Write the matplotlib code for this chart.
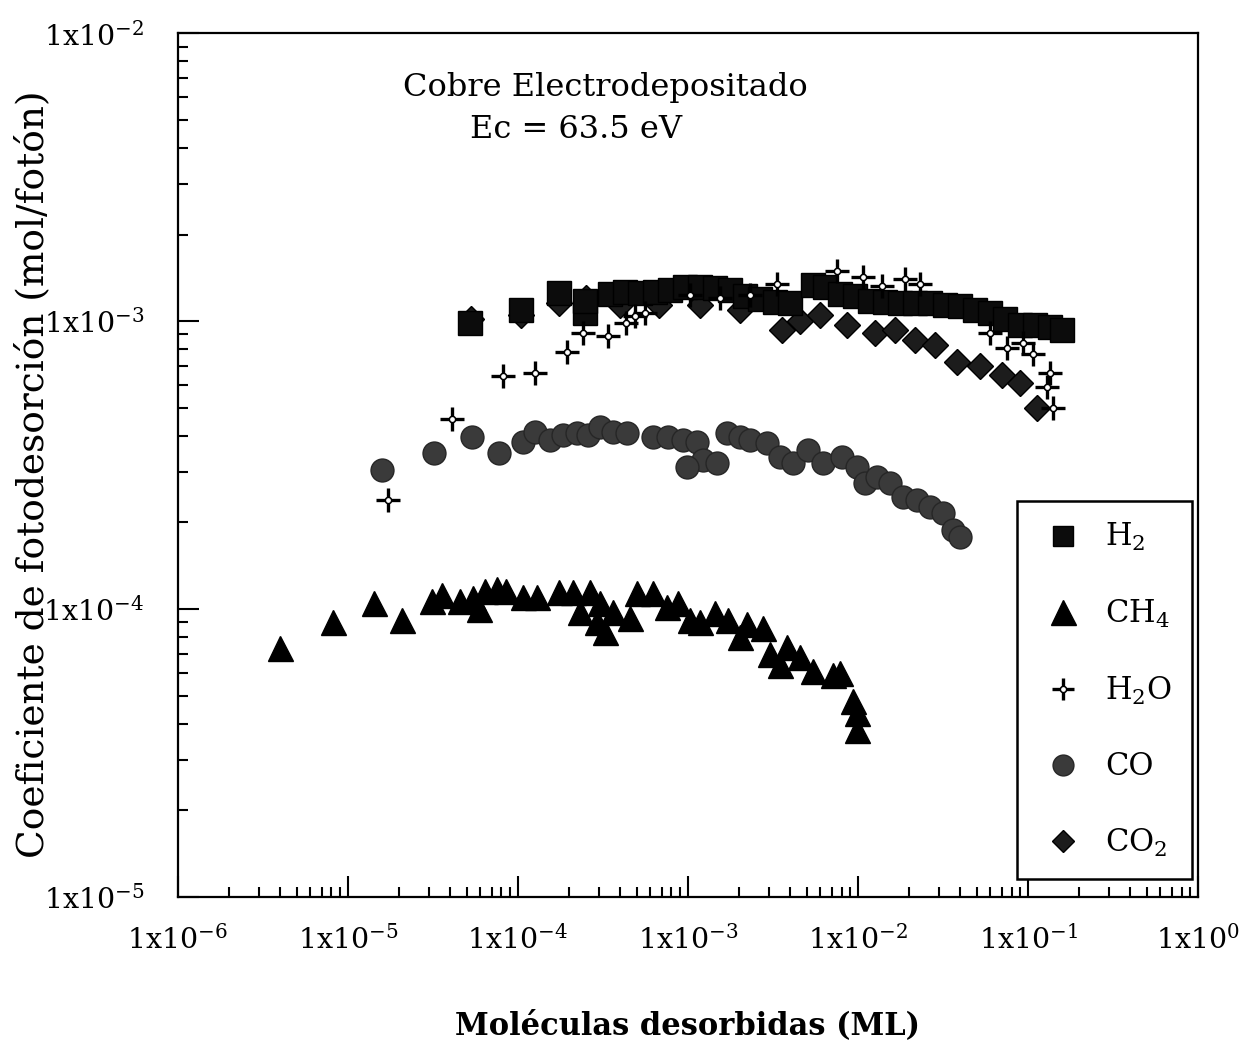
import matplotlib
matplotlib.use("Agg")
import matplotlib.pyplot as plt
from matplotlib.ticker import LogLocator, FuncFormatter, NullFormatter
from matplotlib.lines import Line2D
from matplotlib.legend_handler import HandlerTuple
import numpy as np

plt.rcParams['font.family'] = ['DejaVu Serif']
plt.rcParams['mathtext.fontset'] = 'custom'
plt.rcParams['mathtext.rm'] = 'DejaVu Serif'
plt.rcParams['mathtext.default'] = 'regular'

# ---- data (Moléculas desorbidas [ML], coeficiente [mol/fotón]) ----
h2_x = [5.2e-5, 1.04e-4, 1.74e-4, 2.48e-4, 2.48e-4, 3.48e-4, 4.26e-4, 5.22e-4, 6.4e-4, 7.8e-4,
        9.6e-4, 1.18e-3, 1.44e-3, 1.77e-3, 2.16e-3, 2.65e-3, 3.25e-3, 3.98e-3, 5.4e-3, 6.4e-3,
        7.8e-3, 9.6e-3, 1.18e-2, 1.44e-2, 1.77e-2, 2.16e-2, 2.65e-2, 3.25e-2, 3.98e-2, 4.88e-2,
        5.97e-2, 7.3e-2, 8.97e-2, 0.11, 0.135, 0.158]
h2_y = [0.99e-3, 1.09e-3, 1.25e-3, 1.07e-3, 1.18e-3, 1.24e-3, 1.26e-3, 1.25e-3, 1.26e-3, 1.28e-3,
        1.31e-3, 1.31e-3, 1.30e-3, 1.28e-3, 1.22e-3, 1.19e-3, 1.17e-3, 1.16e-3, 1.34e-3, 1.31e-3,
        1.24e-3, 1.22e-3, 1.18e-3, 1.165e-3, 1.16e-3, 1.16e-3, 1.16e-3, 1.14e-3, 1.13e-3, 1.09e-3,
        1.07e-3, 1.02e-3, 0.97e-3, 0.97e-3, 0.955e-3, 0.93e-3]

ch4_x = [3.98e-6, 8.2e-6, 1.42e-5, 2.08e-5, 3.12e-5, 3.57e-5, 4.56e-5, 5.43e-5, 6.4e-5, 7.5e-5,
         8.5e-5, 5.9e-5, 1.07e-4, 1.29e-4, 1.74e-4, 2.11e-4, 2.65e-4, 2.32e-4, 3.04e-4, 3.62e-4,
         2.92e-4, 3.25e-4, 4.56e-4, 5.0e-4, 6.2e-4, 7.5e-4, 8.7e-4, 1.03e-3, 1.18e-3, 1.44e-3,
         1.72e-3, 2.02e-3, 2.22e-3, 2.76e-3, 3.03e-3, 3.48e-3, 3.82e-3, 4.56e-3, 5.43e-3, 7.1e-3,
         7.8e-3, 9.35e-3, 9.87e-3, 9.87e-3]
ch4_y = [7.3e-5, 9.0e-5, 1.05e-4, 9.2e-5, 1.07e-4, 1.12e-4, 1.07e-4, 1.09e-4, 1.16e-4, 1.17e-4,
         1.16e-4, 1.0e-4, 1.10e-4, 1.10e-4, 1.15e-4, 1.15e-4, 1.15e-4, 9.8e-5, 1.05e-4, 9.8e-5,
         9.0e-5, 8.3e-5, 9.3e-5, 1.14e-4, 1.14e-4, 1.02e-4, 1.05e-4, 9.2e-5, 9.0e-5, 9.7e-5,
         9.2e-5, 8.0e-5, 8.9e-5, 8.6e-5, 7.0e-5, 6.4e-5, 7.4e-5, 6.8e-5, 6.1e-5, 5.9e-5,
         6.0e-5, 4.8e-5, 4.35e-5, 3.8e-5]

h2o_x = [1.72e-5, 4.09e-5, 8.2e-5, 1.26e-4, 1.94e-4, 2.41e-4, 3.38e-4, 4.31e-4, 4.87e-4, 5.58e-4,
         1.03e-3, 1.54e-3, 2.32e-3, 3.34e-3, 7.5e-3, 1.07e-2, 1.38e-2, 1.89e-2, 2.32e-2, 5.97e-2,
         7.5e-2, 9.35e-2, 0.107, 0.135, 0.129, 0.140]
h2o_y = [2.39e-4, 4.57e-4, 6.44e-4, 6.6e-4, 7.8e-4, 9.1e-4, 8.9e-4, 0.99e-3, 1.04e-3, 1.07e-3,
         1.23e-3, 1.2e-3, 1.23e-3, 1.35e-3, 1.50e-3, 1.42e-3, 1.33e-3, 1.40e-3, 1.35e-3, 9.1e-4,
         8.1e-4, 8.4e-4, 7.7e-4, 6.6e-4, 5.9e-4, 5.0e-4]

co_x = [1.58e-5, 3.21e-5, 5.36e-5, 7.7e-5, 1.07e-4, 1.26e-4, 1.54e-4, 1.84e-4, 2.22e-4, 2.58e-4,
        3.04e-4, 3.62e-4, 4.38e-4, 6.2e-4, 7.6e-4, 9.35e-4, 1.13e-3, 1.23e-3, 9.9e-4, 1.48e-3,
        1.69e-3, 2.02e-3, 2.32e-3, 2.92e-3, 3.48e-3, 4.15e-3, 5.08e-3, 6.2e-3, 8.05e-3, 9.87e-3,
        1.10e-2, 1.29e-2, 1.54e-2, 1.84e-2, 2.22e-2, 2.65e-2, 3.16e-2, 3.62e-2, 3.98e-2]
co_y = [3.04e-4, 3.48e-4, 3.96e-4, 3.48e-4, 3.80e-4, 4.12e-4, 3.87e-4, 4.02e-4, 4.08e-4, 4.02e-4,
        4.29e-4, 4.12e-4, 4.08e-4, 3.96e-4, 3.96e-4, 3.87e-4, 3.80e-4, 3.29e-4, 3.11e-4, 3.21e-4,
        4.08e-4, 3.96e-4, 3.87e-4, 3.77e-4, 3.37e-4, 3.21e-4, 3.56e-4, 3.21e-4, 3.37e-4, 3.11e-4,
        2.74e-4, 2.87e-4, 2.74e-4, 2.45e-4, 2.39e-4, 2.26e-4, 2.16e-4, 1.88e-4, 1.78e-4]

co2_x = [5.3e-5, 1.04e-4, 1.74e-4, 2.51e-4, 3.98e-4, 6.8e-4, 1.18e-3, 2.02e-3, 3.57e-3, 4.56e-3,
         5.97e-3, 8.6e-3, 1.26e-2, 1.65e-2, 2.16e-2, 2.84e-2, 3.82e-2, 5.22e-2, 7.0e-2, 8.97e-2,
         0.113]
co2_y = [1.02e-3, 1.05e-3, 1.16e-3, 1.20e-3, 1.14e-3, 1.14e-3, 1.14e-3, 1.09e-3, 9.3e-4, 1.0e-3,
         1.05e-3, 9.7e-4, 9.1e-4, 9.3e-4, 8.6e-4, 8.3e-4, 7.2e-4, 7.0e-4, 6.5e-4, 6.1e-4,
         5.0e-4]

labels = ['H$_2$', 'CH$_4$', 'H$_2$O', 'CO', 'CO$_2$']
decade_labels = ['1x10$^{-6}$', '1x10$^{-5}$', '1x10$^{-4}$', '1x10$^{-3}$',
                 '1x10$^{-2}$', '1x10$^{-1}$', '1x10$^{0}$']
y_decade_labels = ['1x10$^{-5}$', '1x10$^{-4}$', '1x10$^{-3}$', '1x10$^{-2}$']

fig = plt.figure(figsize=(12.52, 10.43), dpi=100)
ax = fig.add_axes([0.142, 0.140, 0.815, 0.828])
ax.set_xscale('log')
ax.set_yscale('log')
ax.set_xlim(1e-6, 1e0)
ax.set_ylim(1e-5, 1e-2)

ax.plot(co_x, co_y, 'o', ms=16.5, mfc='#3a3a3a', mec='#262626', mew=1, zorder=2)
ax.plot(ch4_x, ch4_y, '^', ms=18, mfc='black', mec='black', mew=1, zorder=3)
ax.plot(co2_x, co2_y, 'D', ms=13.5, mfc='#1c1c1c', mec='black', mew=1, zorder=3)
ax.plot(h2_x, h2_y, 's', ms=17, mfc='#0c0c0c', mec='black', mew=1, zorder=4)
ax.plot(h2o_x, h2o_y, '+', ms=17, mec='black', mew=2.4, zorder=5)
ax.plot(h2o_x, h2o_y, 'o', ms=4.5, mfc='white', mec='black', mew=1.1, zorder=6)

ax.xaxis.set_major_locator(LogLocator(base=10, numticks=20))
ax.xaxis.set_minor_locator(LogLocator(base=10, subs=np.arange(2, 10), numticks=100))
ax.yaxis.set_major_locator(LogLocator(base=10, numticks=20))
ax.yaxis.set_minor_locator(LogLocator(base=10, subs=np.arange(2, 10), numticks=100))
ax.xaxis.set_major_formatter(FuncFormatter(lambda v, p: decade_labels[int(round(np.log10(v))) + 6]
                                           if -6 <= round(np.log10(v)) <= 0 else ''))
ax.yaxis.set_major_formatter(FuncFormatter(lambda v, p: y_decade_labels[int(round(np.log10(v))) + 5]
                                           if -5 <= round(np.log10(v)) <= -2 else ''))
ax.xaxis.set_minor_formatter(NullFormatter())
ax.yaxis.set_minor_formatter(NullFormatter())
ax.tick_params(which='both', direction='in', top=False, right=False, width=1.5, labelsize=20.5)
ax.tick_params(which='major', length=15, pad=20)
ax.tick_params(which='minor', length=7)
ax.tick_params(axis='y', which='major', pad=24)
for s in ax.spines.values():
    s.set_linewidth(1.6)

ax.set_xlabel('Moléculas desorbidas (ML)', fontsize=22, fontweight='bold', labelpad=40)
ax.set_ylabel('Coeficiente de fotodesorción (mol/fotón)', fontsize=27)
ax.yaxis.set_label_coords(-0.124, 0.49)

ax.text(0.419, 0.955, 'Cobre Electrodepositado', transform=ax.transAxes, fontsize=23,
        ha='center', va='top')
ax.text(0.39, 0.907, 'Ec = 63.5 eV', transform=ax.transAxes, fontsize=23,
        ha='center', va='top')

h_h2 = Line2D([], [], ls='none', marker='s', ms=15, mfc='#0c0c0c', mec='black')
h_ch4 = Line2D([], [], ls='none', marker='^', ms=18, mfc='black', mec='black')
h_plus = Line2D([], [], ls='none', marker='+', ms=16, mec='black', mew=2.4)
h_dot = Line2D([], [], ls='none', marker='o', ms=4.5, mfc='white', mec='black', mew=1.1)
h_co = Line2D([], [], ls='none', marker='o', ms=15, mfc='#3a3a3a', mec='#262626')
h_co2 = Line2D([], [], ls='none', marker='D', ms=11, mfc='#1c1c1c', mec='black')
leg = ax.legend([h_h2, h_ch4, (h_plus, h_dot), h_co, h_co2], labels,
                handler_map={tuple: HandlerTuple(ndivide=1, pad=0)},
                loc='upper right', bbox_to_anchor=(0.994, 0.458), fontsize=22,
                frameon=True, fancybox=False, edgecolor='black', framealpha=1,
                labelspacing=1.46, borderpad=0.65, handlelength=1.75, handletextpad=0.5,
                borderaxespad=0)
leg.get_frame().set_linewidth(1.8)

fig.savefig('out.png', dpi=100)
